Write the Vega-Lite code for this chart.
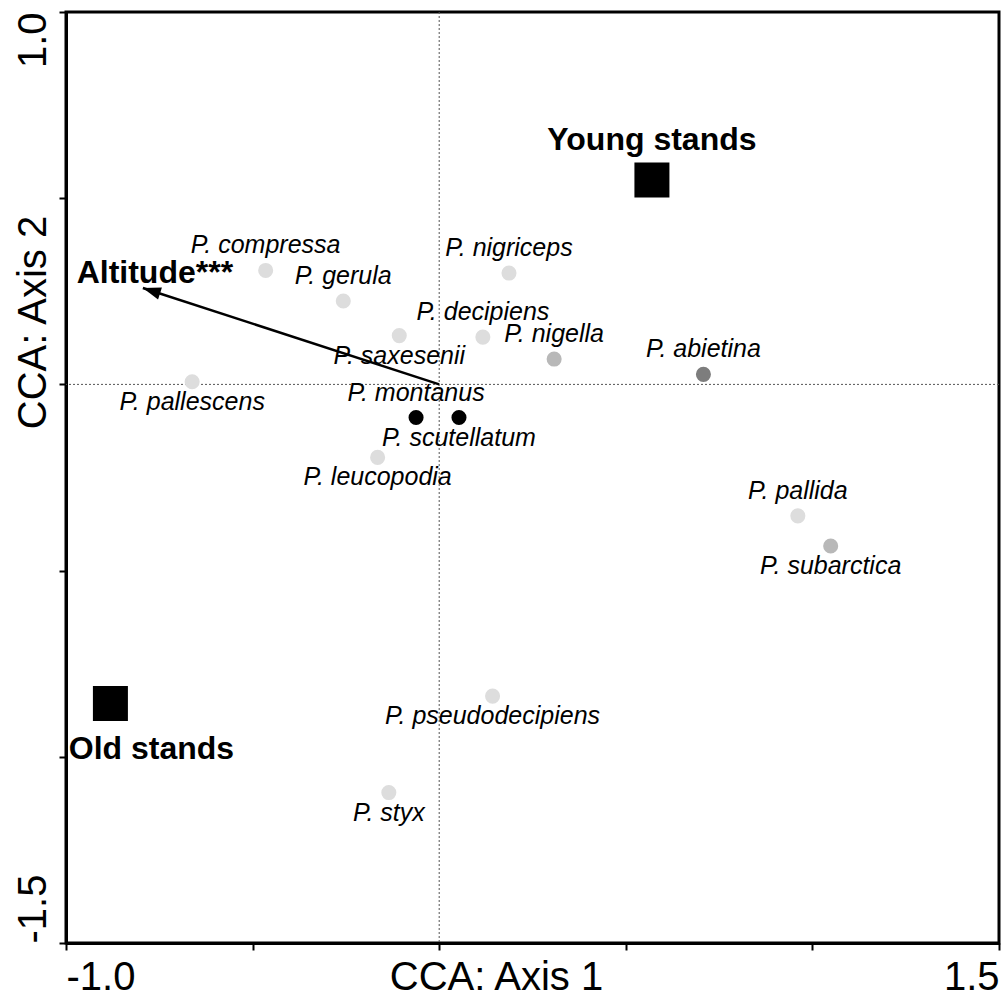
{
  "$schema": "https://vega.github.io/schema/vega-lite/v6.json",
  "width": 933,
  "height": 931,
  "autosize": "none",
  "padding": {"left": 66, "top": 12, "right": 4, "bottom": 54},
  "background": "white",
  "config": {
    "view": {"stroke": "black", "strokeWidth": 3},
    "font": "Liberation Sans",
    "axis": {
      "grid": false,
      "domainColor": "black",
      "domainWidth": 3,
      "tickColor": "black",
      "tickWidth": 2,
      "tickSize": 7,
      "labelFont": "Liberation Sans",
      "labelFontSize": 40,
      "labelColor": "black",
      "titleFont": "Liberation Sans",
      "titleFontSize": 40,
      "titleFontWeight": "normal",
      "titleColor": "black",
      "labelOverlap": false
    }
  },
  "datasets": {
    "species": [
      {"species": "P. compressa", "x": -0.465, "y": 0.306, "group": "a", "pos": "above"},
      {"species": "P. gerula", "x": -0.257, "y": 0.224, "group": "a", "pos": "above"},
      {"species": "P. nigriceps", "x": 0.187, "y": 0.299, "group": "a", "pos": "above"},
      {"species": "P. decipiens", "x": 0.117, "y": 0.127, "group": "a", "pos": "above"},
      {"species": "P. saxesenii", "x": -0.107, "y": 0.131, "group": "a", "pos": "below"},
      {"species": "P. nigella", "x": 0.308, "y": 0.068, "group": "b", "pos": "above"},
      {"species": "P. abietina", "x": 0.708, "y": 0.027, "group": "c", "pos": "above"},
      {"species": "P. pallescens", "x": -0.662, "y": 0.007, "group": "a", "pos": "below"},
      {"species": "P. montanus", "x": -0.062, "y": -0.089, "group": "d", "pos": "above"},
      {"species": "P. scutellatum", "x": 0.053, "y": -0.089, "group": "d", "pos": "below"},
      {"species": "P. leucopodia", "x": -0.165, "y": -0.196, "group": "a", "pos": "below"},
      {"species": "P. pallida", "x": 0.961, "y": -0.353, "group": "a", "pos": "above"},
      {"species": "P. subarctica", "x": 1.049, "y": -0.434, "group": "b", "pos": "below"},
      {"species": "P. pseudodecipiens", "x": 0.143, "y": -0.837, "group": "a", "pos": "below"},
      {"species": "P. styx", "x": -0.135, "y": -1.096, "group": "a", "pos": "below"}
    ],
    "env": [
      {"label": "Young stands", "x": 0.570, "y": 0.549},
      {"label": "Old stands", "x": -0.881, "y": -0.857}
    ],
    "arrow": [
      {"label": "Altitude***", "x": 0, "y": 0, "xend": -0.794, "yend": 0.259}
    ]
  },
  "layer": [
    {
      "data": {"values": [{"x": 0}]},
      "mark": {"type": "rule", "stroke": "#555555", "strokeWidth": 1, "strokeDash": [2, 2]},
      "encoding": {
        "x": {
          "field": "x", "type": "quantitative",
          "scale": {"domain": [-1, 1.5], "nice": false, "zero": false},
          "axis": {
            "title": "CCA: Axis 1",
            "values": [-1, -0.5, 0, 0.5, 1, 1.5],
            "labelExpr": "datum.value == -1 ? '-1.0' : (datum.value == 1.5 ? '1.5' : '')",
            "labelFlush": true,
            "labelBaseline": "alphabetic",
            "labelPadding": 39,
            "titleX": 430,
            "titleY": 46,
            "titleAlign": "center",
            "titleBaseline": "alphabetic"
          }
        }
      }
    },
    {
      "data": {"values": [{"y": 0}]},
      "mark": {"type": "rule", "stroke": "#555555", "strokeWidth": 1, "strokeDash": [2, 2]},
      "encoding": {
        "y": {
          "field": "y", "type": "quantitative",
          "scale": {"domain": [-1.5, 1], "nice": false, "zero": false},
          "axis": {
            "title": "CCA: Axis 2",
            "values": [-1.5, -1, -0.5, 0, 0.5, 1],
            "labelExpr": "datum.value == 1 ? '1.0' : (datum.value == -1.5 ? '-1.5' : '')",
            "labelAngle": -90,
            "labelAlign": {"condition": {"test": "datum.value == 1", "value": "right"}, "value": "left"},
            "labelBaseline": "alphabetic",
            "labelPadding": 14,
            "titleAngle": -90,
            "titleX": -21,
            "titleY": 310,
            "titleAlign": "center",
            "titleBaseline": "alphabetic"
          }
        }
      }
    },
    {
      "data": {"name": "arrow"},
      "mark": {"type": "rule", "color": "black", "strokeWidth": 2.5, "strokeCap": "butt"},
      "encoding": {
        "x": {"field": "x", "type": "quantitative", "scale": {"domain": [-1, 1.5], "nice": false, "zero": false}},
        "y": {"field": "y", "type": "quantitative", "scale": {"domain": [-1.5, 1], "nice": false, "zero": false}},
        "x2": {"field": "xend"},
        "y2": {"field": "yend"}
      }
    },
    {
      "data": {"name": "arrow"},
      "mark": {"type": "point", "shape": "M0,0L0.7,2L-0.7,2Z", "filled": true, "color": "black", "opacity": 1, "size": 324, "angle": 288},
      "encoding": {
        "x": {"field": "xend", "type": "quantitative", "scale": {"domain": [-1, 1.5], "nice": false, "zero": false}},
        "y": {"field": "yend", "type": "quantitative", "scale": {"domain": [-1.5, 1], "nice": false, "zero": false}}
      }
    },
    {
      "data": {"name": "species"},
      "mark": {"type": "point", "shape": "circle", "filled": true, "opacity": 1, "size": 227},
      "encoding": {
        "x": {"field": "x", "type": "quantitative", "scale": {"domain": [-1, 1.5], "nice": false, "zero": false}},
        "y": {"field": "y", "type": "quantitative", "scale": {"domain": [-1.5, 1], "nice": false, "zero": false}},
        "color": {
          "field": "group", "type": "nominal",
          "scale": {"domain": ["a", "b", "c", "d"], "range": ["#dddddd", "#b8b8b8", "#7d7d7d", "#000000"]},
          "legend": null
        }
      }
    },
    {
      "data": {"name": "species"},
      "transform": [{"filter": "datum.pos == 'above'"}],
      "mark": {"type": "text", "font": "Liberation Sans", "fontStyle": "italic", "fontSize": 25, "align": "center", "baseline": "alphabetic", "dy": -17, "color": "black"},
      "encoding": {
        "x": {"field": "x", "type": "quantitative", "scale": {"domain": [-1, 1.5], "nice": false, "zero": false}},
        "y": {"field": "y", "type": "quantitative", "scale": {"domain": [-1.5, 1], "nice": false, "zero": false}},
        "text": {"field": "species"}
      }
    },
    {
      "data": {"name": "species"},
      "transform": [{"filter": "datum.pos == 'below'"}],
      "mark": {"type": "text", "font": "Liberation Sans", "fontStyle": "italic", "fontSize": 25, "align": "center", "baseline": "alphabetic", "dy": 28, "color": "black"},
      "encoding": {
        "x": {"field": "x", "type": "quantitative", "scale": {"domain": [-1, 1.5], "nice": false, "zero": false}},
        "y": {"field": "y", "type": "quantitative", "scale": {"domain": [-1.5, 1], "nice": false, "zero": false}},
        "text": {"field": "species"}
      }
    },
    {
      "data": {"name": "env"},
      "mark": {"type": "square", "filled": true, "opacity": 1, "color": "black", "size": 1225},
      "encoding": {
        "x": {"field": "x", "type": "quantitative", "scale": {"domain": [-1, 1.5], "nice": false, "zero": false}},
        "y": {"field": "y", "type": "quantitative", "scale": {"domain": [-1.5, 1], "nice": false, "zero": false}}
      }
    },
    {
      "data": {"name": "env"},
      "transform": [{"filter": "datum.label == 'Young stands'"}],
      "mark": {"type": "text", "font": "Liberation Sans", "fontWeight": "bold", "fontSize": 32, "align": "center", "baseline": "alphabetic", "dy": -30, "color": "black"},
      "encoding": {
        "x": {"field": "x", "type": "quantitative", "scale": {"domain": [-1, 1.5], "nice": false, "zero": false}},
        "y": {"field": "y", "type": "quantitative", "scale": {"domain": [-1.5, 1], "nice": false, "zero": false}},
        "text": {"field": "label"}
      }
    },
    {
      "data": {"name": "env"},
      "transform": [{"filter": "datum.label == 'Old stands'"}],
      "mark": {"type": "text", "font": "Liberation Sans", "fontWeight": "bold", "fontSize": 32, "align": "center", "baseline": "alphabetic", "dx": 41, "dy": 55, "color": "black"},
      "encoding": {
        "x": {"field": "x", "type": "quantitative", "scale": {"domain": [-1, 1.5], "nice": false, "zero": false}},
        "y": {"field": "y", "type": "quantitative", "scale": {"domain": [-1.5, 1], "nice": false, "zero": false}},
        "text": {"field": "label"}
      }
    },
    {
      "data": {"name": "arrow"},
      "mark": {"type": "text", "font": "Liberation Sans", "fontWeight": "bold", "fontSize": 32, "align": "center", "baseline": "alphabetic", "dx": 12, "dy": -5, "color": "black"},
      "encoding": {
        "x": {"field": "xend", "type": "quantitative", "scale": {"domain": [-1, 1.5], "nice": false, "zero": false}},
        "y": {"field": "yend", "type": "quantitative", "scale": {"domain": [-1.5, 1], "nice": false, "zero": false}},
        "text": {"field": "label"}
      }
    }
  ]
}
